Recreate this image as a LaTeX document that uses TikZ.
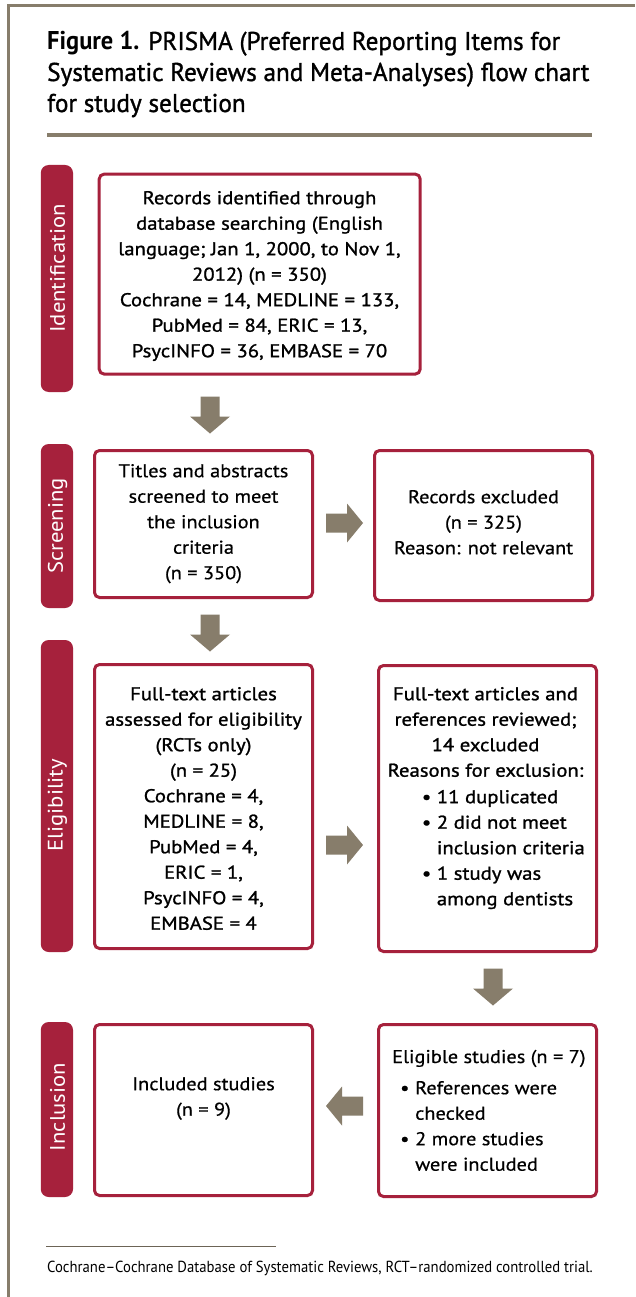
\documentclass[tikz,border=0pt]{standalone}
\usepackage{fontspec}
\setmainfont{PT Sans}
\newfontfamily\titleb[FakeStretch=0.95]{PT Sans Bold}
\newfontfamily\titlem[FakeStretch=0.98,FakeBold=1.2]{PT Sans}
\newfontfamily\boxm[FakeStretch=1.12,FakeBold=1.2]{PT Sans}
\newfontfamily\boxr[FakeStretch=1.1,FakeBold=0.6]{PT Sans}
\newfontfamily\barf[FakeStretch=1.08]{PT Sans}
\newfontfamily\notef[FakeStretch=0.92]{PT Sans}
\definecolor{prisred}{HTML}{A6213C}
\definecolor{taupe}{HTML}{877D6B}
\newcommand{\bul}{\makebox[15pt][l]{\textbullet}}
\newcommand{\bulind}{\hspace*{15pt}}
\tikzset{
  bar/.style={fill=prisred, rounded corners=8pt, inner sep=0pt, minimum height=32.3pt, rotate=90},
  barlabel/.style={rotate=90, inner sep=0pt, text=white, font=\barf\fontsize{21}{24}\selectfont},
  box/.style={draw=prisred, line width=3pt, rounded corners=5pt, fill=white, inner sep=0pt},
  boxtext/.style={inner sep=0pt, align=center, anchor=north, font=\boxm\fontsize{18.5}{25.5}\selectfont},
  boxtextr/.style={inner sep=0pt, align=center, anchor=north, font=\boxr\fontsize{18.5}{25.5}\selectfont},
  listtext/.style={inner sep=0pt, align=left, anchor=north west, font=\boxm\fontsize{18.5}{25.5}\selectfont},
  listtextr/.style={inner sep=0pt, align=left, anchor=north west, font=\boxr\fontsize{18.5}{25.5}\selectfont},
  titleline/.style={inner sep=0pt, anchor=base west, font=\titlem\fontsize{25.7}{31}\selectfont},
  blockarrow/.style={fill=taupe}
}
\begin{document}
\begin{tikzpicture}[x=1pt,y=-1pt]
\useasboundingbox (0,0) rectangle (635,1297);
\fill[white] (0,0) rectangle (635,1297);
% frame
\draw[taupe, line width=2.5pt] (8.5,1297) -- (8.5,5.3) -- (635,5.3);
% title
\node[titleline] (t1) at (47,50) {{\titleb Figure 1.} PRISMA (Preferred Reporting Items for};
\node[titleline] (t2) at (47,81) {Systematic Reviews and Meta-Analyses) flow chart};
\node[titleline] (t3) at (47,112) {for study selection};
\draw[taupe, line width=4pt] (47,135) -- (592,135);
% stage bars
\node[bar, minimum width=227pt] (sid) at (56.9,278.5) {};
\node[bar, minimum width=164pt] (sscr) at (56.9,526) {};
\node[bar, minimum width=312pt] (selig) at (56.9,796) {};
\node[bar, minimum width=175pt] (sinc) at (56.9,1109.5) {};
\node[barlabel] (lid) at (57.5,268.5) {Identification};
\node[barlabel] (lscr) at (57.5,526) {Screening};
\node[barlabel] (lelig) at (57.5,805) {Eligibility};
\node[barlabel] (linc) at (57.5,1107) {Inclusion};
% boxes
\node[box, minimum width=321pt, minimum height=200pt] (b1) at (259.7,274.1) {};
\node[box, minimum width=218pt, minimum height=147pt] (b2) at (203.5,524) {};
\node[box, minimum width=218pt, minimum height=150pt] (b3) at (483.5,525.5) {};
\node[box, minimum width=218pt, minimum height=284pt] (b4) at (203.5,806.5) {};
\node[box, minimum width=218pt, minimum height=286pt] (b5) at (487.5,808.5) {};
\node[box, minimum width=218pt, minimum height=171pt] (b6) at (203.5,1110) {};
\node[box, minimum width=218pt, minimum height=172pt] (b7) at (487.5,1110.5) {};
% texts
\node[boxtext] (x1) at (259.5,186.15) {\strut Records identified through\\database searching (English\\language; Jan 1, 2000, to Nov 1,\\2012) (n = 350)\\Cochrane = 14, MEDLINE = 133,\\PubMed = 84, ERIC = 13,\\PsycINFO = 36, EMBASE = 70};
\node[boxtextr] (x2) at (203.5,459.15) {\strut Titles and abstracts\\screened to meet\\the inclusion\\criteria\\(n = 350)};
\node[boxtextr] (x3) at (483.5,485.15) {\strut Records excluded\\(n = 325)\\Reason: not relevant};
\node[boxtext] (x4) at (203.5,682.15) {\strut Full-text articles\\assessed for eligibility\\(RCTs only)\\(n = 25)\\Cochrane = 4,\\MEDLINE = 8,\\PubMed = 4,\\ERIC = 1,\\PsycINFO = 4,\\EMBASE = 4};
\node[boxtext] (x5) at (485.5,682.15) {\strut Full-text articles and\\references reviewed;\\14 excluded\\Reasons for exclusion:};
\node[listtext] (x5l) at (421.7,785.15) {\strut\bul 11 duplicated\\\bul 2 did not meet\\\bulind inclusion criteria\\\bul 1 study was\\\bulind among dentists};
\node[boxtextr] (x6) at (203.5,1072.15) {\strut Included studies\\(n = 9)};
\node[inner sep=0pt, anchor=base west, font=\boxr\fontsize{18.5}{25.5}\selectfont] (x7) at (392,1063) {Eligible studies (n = 7)};
\node[listtextr] (x7l) at (400,1076.15) {\strut\bul References were\\\bulind checked\\\bul 2 more studies\\\bulind were included};
% block arrows
\fill[blockarrow] (210,415) +(-9.5,-18.5) -- +(9.5,-18.5) -- +(9.5,1.5) -- +(20,1.5) -- +(0,18.5) -- +(-20,1.5) -- +(-9.5,1.5) -- cycle;
\fill[blockarrow] (210,633) +(-9.5,-18.5) -- +(9.5,-18.5) -- +(9.5,1.5) -- +(20,1.5) -- +(0,18.5) -- +(-20,1.5) -- +(-9.5,1.5) -- cycle;
\fill[blockarrow] (493,987) +(-9.5,-18.5) -- +(9.5,-18.5) -- +(9.5,1.5) -- +(20,1.5) -- +(0,18.5) -- +(-20,1.5) -- +(-9.5,1.5) -- cycle;
\fill[blockarrow] (344.5,523) +(-18.5,-9.5) -- +(2.5,-9.5) -- +(2.5,-19.5) -- +(18.5,0) -- +(2.5,19.5) -- +(2.5,9.5) -- +(-18.5,9.5) -- cycle;
\fill[blockarrow] (344.5,845) +(-18.5,-9.5) -- +(2.5,-9.5) -- +(2.5,-19.5) -- +(18.5,0) -- +(2.5,19.5) -- +(2.5,9.5) -- +(-18.5,9.5) -- cycle;
\fill[blockarrow] (344.5,1106) +(18.5,-9.5) -- +(-2.5,-9.5) -- +(-2.5,-19.5) -- +(-18.5,0) -- +(-2.5,19.5) -- +(-2.5,9.5) -- +(18.5,9.5) -- cycle;
% footnote
\draw[taupe!80!black, line width=1pt] (46,1246) -- (276,1246);
\node[inner sep=0pt, anchor=base west, font=\notef\fontsize{16}{19}\selectfont] (fn) at (47,1272) {Cochrane–Cochrane Database of Systematic Reviews, RCT–randomized controlled trial.};
\end{tikzpicture}
\end{document}
